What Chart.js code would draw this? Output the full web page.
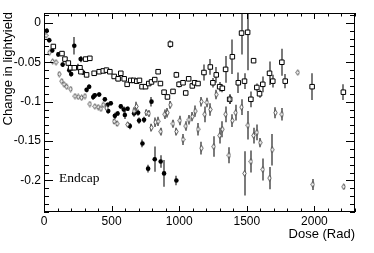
<!DOCTYPE html>
<html>
<head>
<meta charset="utf-8">
<script src="https://cdn.jsdelivr.net/npm/chart.js@4.4.1/dist/chart.umd.min.js"></script>
<style>
  html, body { margin: 0; padding: 0; background: #fff; }
</style>
</head>
<body>
<canvas id="doseChart" width="374" height="253"></canvas>
<script>
// axes
const xTicks = [0, 500, 1000, 1500, 2000];
const yTicks = [0, -0.05, -0.1, -0.15, -0.2];

// filled circles
const filledDose = [20, 39, 61, 106, 138, 187, 201, 224, 249, 271, 290, 315, 334, 364, 376, 408, 450, 470, 475, 494,
  524, 544, 568, 590, 598, 618, 635, 666, 696, 703, 728, 740, 770, 795, 819, 863, 888, 979];
const filledChange = [-0.010, -0.022, -0.035, -0.040, -0.053, -0.060, -0.065, -0.029, -0.056, -0.046, -0.063, -0.085,
  -0.081, -0.094, -0.092, -0.091, -0.097, -0.104, -0.112, -0.102, -0.118, -0.115, -0.106, -0.110, -0.117, -0.109,
  -0.131, -0.115, -0.114, -0.124, -0.153, -0.123, -0.185, -0.100, -0.173, -0.176, -0.191, -0.200];
const filledErr = [0.003, 0.003, 0.003, 0.003, 0.003, 0.003, 0.003, 0.011, 0.004, 0.004, 0.003, 0.003, 0.003, 0.004,
  0.003, 0.003, 0.003, 0.003, 0.003, 0.003, 0.004, 0.003, 0.003, 0.004, 0.005, 0.003, 0.004, 0.004, 0.004, 0.004,
  0.005, 0.004, 0.005, 0.006, 0.016, 0.008, 0.017, 0.006];

// open squares
const squareDose = [69, 133, 155, 180, 197, 224, 266, 273, 308, 315, 339, 371, 408, 438, 462, 487, 519, 548, 568, 593,
  615, 642, 664, 686, 706, 725, 751, 775, 795, 819, 844, 861, 888, 913, 935, 954, 979, 999, 1028, 1048, 1070, 1097,
  1114, 1139, 1183, 1230, 1249, 1274, 1299, 1319, 1343, 1373, 1393, 1437, 1461, 1483, 1506, 1530, 1550, 1574, 1594,
  1618, 1668, 1692, 1759, 1784, 1983, 2214];
const squareChange = [-0.030, -0.039, -0.046, -0.051, -0.057, -0.057, -0.057, -0.062, -0.046, -0.066, -0.045, -0.064,
  -0.062, -0.061, -0.060, -0.062, -0.068, -0.071, -0.064, -0.071, -0.078, -0.073, -0.073, -0.074, -0.073, -0.081,
  -0.081, -0.077, -0.075, -0.072, -0.062, -0.077, -0.088, -0.094, -0.027, -0.087, -0.066, -0.078, -0.076, -0.089,
  -0.071, -0.080, -0.076, -0.077, -0.063, -0.056, -0.076, -0.066, -0.081, -0.083, -0.059, -0.097, -0.043, -0.076,
  -0.013, -0.074, -0.012, -0.097, -0.048, -0.082, -0.090, -0.078, -0.064, -0.074, -0.050, -0.074, -0.081, -0.088];
const squareErr = [0.003, 0.003, 0.003, 0.003, 0.003, 0.003, 0.003, 0.003, 0.003, 0.003, 0.003, 0.003, 0.003, 0.003,
  0.003, 0.003, 0.003, 0.003, 0.003, 0.003, 0.003, 0.003, 0.003, 0.003, 0.003, 0.003, 0.003, 0.003, 0.003, 0.003,
  0.003, 0.003, 0.003, 0.003, 0.005, 0.003, 0.004, 0.004, 0.003, 0.003, 0.003, 0.003, 0.003, 0.003, 0.010, 0.010,
  0.006, 0.010, 0.006, 0.005, 0.017, 0.006, 0.022, 0.013, 0.027, 0.010, 0.048, 0.010, 0.003, 0.005, 0.005, 0.010,
  0.015, 0.008, 0.017, 0.009, 0.017, 0.010];

// open diamonds
const diamondDose = [15, 39, 64, 89, 113, 131, 148, 168, 197, 229, 253, 278, 303, 339, 376, 401, 421, 438, 462, 519,
  541, 618, 666, 684, 758, 775, 795, 824, 844, 863, 893, 913, 935, 954, 979, 1004, 1028, 1048, 1072, 1097, 1119, 1139,
  1164, 1164, 1188, 1205, 1230, 1255, 1274, 1299, 1319, 1343, 1368, 1373, 1393, 1417, 1461, 1483, 1508, 1530, 1550,
  1574, 1599, 1618, 1668, 1688, 1712, 1759, 1877, 1988, 2216];
const diamondChange = [-0.016, -0.038, -0.049, -0.050, -0.065, -0.074, -0.078, -0.081, -0.084, -0.093, -0.094, -0.095,
  -0.093, -0.103, -0.106, -0.107, -0.109, -0.104, -0.108, -0.125, -0.128, -0.129, -0.112, -0.106, -0.114, -0.115,
  -0.133, -0.126, -0.125, -0.138, -0.116, -0.114, -0.104, -0.128, -0.138, -0.124, -0.148, -0.131, -0.123, -0.119,
  -0.112, -0.135, -0.159, -0.100, -0.116, -0.101, -0.110, -0.157, -0.091, -0.143, -0.135, -0.116, -0.168, -0.097,
  -0.124, -0.114, -0.107, -0.191, -0.130, -0.176, -0.143, -0.139, -0.152, -0.186, -0.197, -0.161, -0.114, -0.116,
  -0.063, -0.205, -0.208];
const diamondErr = [0.002, 0.002, 0.002, 0.002, 0.002, 0.002, 0.002, 0.002, 0.002, 0.002, 0.002, 0.002, 0.002, 0.002,
  0.002, 0.002, 0.002, 0.002, 0.002, 0.003, 0.003, 0.003, 0.005, 0.006, 0.004, 0.004, 0.005, 0.006, 0.006, 0.005,
  0.006, 0.006, 0.005, 0.005, 0.005, 0.006, 0.007, 0.006, 0.006, 0.006, 0.007, 0.008, 0.008, 0.006, 0.010, 0.006,
  0.008, 0.013, 0.006, 0.010, 0.010, 0.010, 0.010, 0.006, 0.008, 0.010, 0.010, 0.028, 0.018, 0.014, 0.010, 0.010,
  0.006, 0.014, 0.014, 0.020, 0.007, 0.008, 0.002, 0.007, 0.003];

const toPoints = (xs, ys, es) => xs.map((x, i) => ({ x: x, y: ys[i], err: es[i] }));

// small open diamond marker like the ROOT one
const diamondImg = document.createElement("canvas");
diamondImg.width = 5;
diamondImg.height = 7;
const dctx = diamondImg.getContext("2d");
dctx.strokeStyle = "#333";
dctx.lineWidth = 0.8;
dctx.beginPath();
dctx.moveTo(2.5, 0.7);
dctx.lineTo(4.2, 3.5);
dctx.lineTo(2.5, 6.3);
dctx.lineTo(0.8, 3.5);
dctx.closePath();
dctx.fillStyle = "#fff";
dctx.fill();
dctx.stroke();

const sansFont = "'Liberation Sans', Arial, Helvetica, sans-serif";

// error bars, drawn under the markers
const errorBars = {
  id: "errorBars",
  beforeDatasetsDraw(chart) {
    const ctx = chart.ctx;
    const xs = chart.scales.x, ys = chart.scales.y;
    const area = chart.chartArea;
    ctx.save();
    ctx.beginPath();
    ctx.rect(area.left, area.top, area.right - area.left, area.bottom - area.top);
    ctx.clip();
    ctx.strokeStyle = "#333";
    ctx.lineWidth = 1.3;
    chart.data.datasets.forEach(ds => {
      ds.data.forEach(p => {
        const px = Math.round(xs.getPixelForValue(p.x));
        ctx.beginPath();
        ctx.moveTo(px, ys.getPixelForValue(p.y + p.err));
        ctx.lineTo(px, ys.getPixelForValue(p.y - p.err));
        ctx.stroke();
      });
    });
    ctx.restore();
  }
};

// ROOT-like frame with inner ticks on all four sides, plus texts
const frame = {
  id: "frame",
  afterDraw(chart) {
    const ctx = chart.ctx;
    const xs = chart.scales.x, ys = chart.scales.y;
    const a = chart.chartArea;
    ctx.save();
    ctx.strokeStyle = "#000";
    ctx.lineWidth = 1;
    ctx.strokeRect(a.left + 0.5, a.top + 0.5, a.right - a.left - 1, a.bottom - a.top - 1);
    ctx.beginPath();
    for (let v = 0; v <= xs.max; v += 100) {
      const px = Math.round(xs.getPixelForValue(v)) + 0.5;
      const len = v % 500 === 0 ? 6 : 3.5;
      ctx.moveTo(px, a.bottom);
      ctx.lineTo(px, a.bottom - len);
      ctx.moveTo(px, a.top);
      ctx.lineTo(px, a.top + len);
    }
    for (let k = 1; k >= -24; k--) {
      const py = Math.round(ys.getPixelForValue(k / 100)) + 0.5;
      const len = k % 5 === 0 ? 9 : 5;
      ctx.moveTo(a.left, py);
      ctx.lineTo(a.left + len, py);
      ctx.moveTo(a.right, py);
      ctx.lineTo(a.right - len, py);
    }
    ctx.stroke();

    ctx.fillStyle = "#000";
    ctx.font = "13px " + sansFont;
    ctx.textAlign = "right";
    ctx.textBaseline = "alphabetic";
    ctx.fillText("Dose (Rad)", a.right, 238);

    ctx.save();
    ctx.translate(12, a.top - 1);
    ctx.rotate(-Math.PI / 2);
    ctx.textAlign = "right";
    ctx.fillText("Change in lightyield", 0, 0);
    ctx.restore();

    ctx.font = "13.5px 'Liberation Serif', 'Times New Roman', serif";
    ctx.textAlign = "left";
    ctx.fillText("Endcap", 59, 182);
    ctx.restore();
  }
};

const ctx = document.getElementById("doseChart").getContext("2d");
const doseChart = new Chart(ctx, {
  type: "scatter",
  data: {
    datasets: [
      {
        label: "diamond",
        data: toPoints(diamondDose, diamondChange, diamondErr),
        pointStyle: diamondImg
      },
      {
        label: "square",
        data: toPoints(squareDose, squareChange, squareErr),
        pointStyle: "rect",
        pointRadius: 3.2,
        backgroundColor: "#fff",
        borderColor: "#000",
        borderWidth: 1
      },
      {
        label: "filled",
        data: toPoints(filledDose, filledChange, filledErr),
        pointStyle: "circle",
        pointRadius: 2.3,
        backgroundColor: "#000",
        borderColor: "#000",
        borderWidth: 0
      }
    ]
  },
  options: {
    responsive: false,
    animation: false,
    layout: { padding: { top: 13, right: 19, left: 0, bottom: 0 } },
    plugins: {
      legend: { display: false },
      tooltip: { enabled: false }
    },
    scales: {
      x: {
        type: "linear",
        min: 0,
        max: 2300,
        afterFit: scale => { scale.height = 41; },
        afterBuildTicks: scale => { scale.ticks = xTicks.map(v => ({ value: v })); },
        grid: { display: false, drawTicks: false },
        border: { display: false },
        ticks: {
          color: "#000",
          padding: 2,
          maxRotation: 0,
          font: { family: sansFont, size: 12 },
          callback: v => String(v)
        }
      },
      y: {
        type: "linear",
        min: -0.24,
        max: 0.0125,
        afterFit: scale => { scale.width = 44; },
        afterBuildTicks: scale => { scale.ticks = yTicks.map(v => ({ value: v })); },
        grid: { display: false, drawTicks: false },
        border: { display: false },
        ticks: {
          color: "#000",
          padding: 3,
          font: { family: sansFont, size: 12 },
          callback: v => String(v)
        }
      }
    }
  },
  plugins: [errorBars, frame]
});
</script>
</body>
</html>
